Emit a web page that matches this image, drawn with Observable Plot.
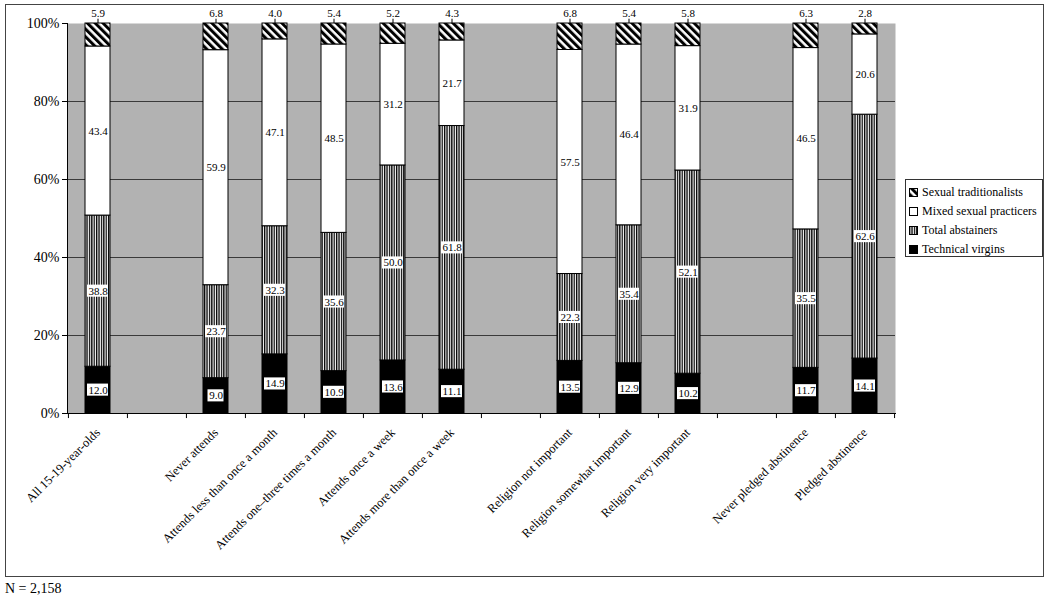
<!DOCTYPE html>
<html><head><meta charset="utf-8">
<script src="https://cdn.jsdelivr.net/npm/d3@7"></script>
<script src="https://cdn.jsdelivr.net/npm/@observablehq/plot@0.6"></script>
<style>
body{margin:0;background:#fff;font-family:"Liberation Serif","Times New Roman",serif;color:#000;}
#wrap{position:relative;width:1050px;height:603px;overflow:hidden;}
#wrap > svg.chart{position:absolute;left:0;top:0;}
#frame{position:absolute;left:5px;top:4px;width:1037px;height:571px;border:1px solid #444;pointer-events:none;}
#legend{position:absolute;left:905px;top:179px;width:136px;height:76px;border:1px solid #333;background:#fff;font-size:12px;}
.item{position:absolute;left:3px;height:16px;display:flex;align-items:center;white-space:nowrap;}
.item svg{margin-right:4px;display:block;}
#note{position:absolute;left:5px;top:581px;font-size:14px;}
</style></head><body>
<svg width="0" height="0" style="position:absolute">
  <defs>
    <pattern id="pTrad" patternUnits="userSpaceOnUse" width="5.5" height="5.5" patternTransform="rotate(-45)">
      <rect width="5.5" height="5.5" fill="white"/><rect width="3" height="5.5" fill="black"/>
    </pattern>
    <pattern id="pAbst" patternUnits="userSpaceOnUse" width="2.4" height="4">
      <rect width="2.4" height="4" fill="white"/><rect width="1.3" height="4" fill="black"/>
    </pattern>
  </defs>
</svg>
<div id="wrap"></div>
<script>
// ---- data ----
const slots = ["All 15-19-year-olds", " ", "Never attends", "Attends less than once a month",
  "Attends one–three times a month", "Attends once a week", "Attends more than once a week", "  ",
  "Religion not important", "Religion somewhat important", "Religion very important", "   ",
  "Never pledged abstinence", "Pledged abstinence"];
const categories = ["All 15-19-year-olds", "Never attends", "Attends less than once a month",
  "Attends one–three times a month", "Attends once a week", "Attends more than once a week",
  "Religion not important", "Religion somewhat important", "Religion very important",
  "Never pledged abstinence", "Pledged abstinence"];
const seriesNames = ["Technical virgins", "Total abstainers", "Mixed sexual practicers", "Sexual traditionalists"];
const technicalVirgins      = [12.0, 9.0, 14.9, 10.9, 13.6, 11.1, 13.5, 12.9, 10.2, 11.7, 14.1];
const totalAbstainers       = [38.8, 23.7, 32.3, 35.6, 50.0, 61.8, 22.3, 35.4, 52.1, 35.5, 62.6];
const mixedPracticers       = [43.4, 59.9, 47.1, 48.5, 31.2, 21.7, 57.5, 46.4, 31.9, 46.5, 20.6];
const sexualTraditionalists = [5.9, 6.8, 4.0, 5.4, 5.2, 4.3, 6.8, 5.4, 5.8, 6.3, 2.8];
const yTicks = [0, 20, 40, 60, 80, 100];
const note = "N = 2,158";

const seriesValues = [technicalVirgins, totalAbstainers, mixedPracticers, sexualTraditionalists];
const fills = {
  "Technical virgins": "black",
  "Total abstainers": "url(#pAbst)",
  "Mixed sexual practicers": "white",
  "Sexual traditionalists": "url(#pTrad)"
};

// 100% stacked rows (normalized like the original)
const rows = [];
categories.forEach((c, i) => {
  const total = d3.sum(seriesValues, v => v[i]);
  let acc = 0;
  seriesNames.forEach((s, k) => {
    const v = seriesValues[k][i];
    const y1 = acc / total * 100, y2 = (acc + v) / total * 100;
    acc += v;
    rows.push({category: c, series: s, value: v, label: v.toFixed(1), y1, y2, mid: (y1 + y2) / 2});
  });
});
const boxed = rows.filter(d => d.series === "Technical virgins" || d.series === "Total abstainers");
const mixed = rows.filter(d => d.series === "Mixed sexual practicers");
const trad = rows.filter(d => d.series === "Sexual traditionalists");

const W = 1050, H = 576, mL = 67, mR = 155, mT = 23, mB = 163;
const step = (W - mL - mR) / slots.length;

const chart = Plot.plot({
  width: W, height: H,
  marginLeft: mL, marginRight: mR, marginTop: mT, marginBottom: mB,
  className: "chart",
  style: {fontFamily: "'Liberation Serif', 'Times New Roman', serif", fontSize: "14px", color: "black", background: "transparent", overflow: "visible"},
  x: {domain: slots, paddingInner: 0.577, paddingOuter: 0.2885, axis: null, label: null},
  y: {domain: [0, 100], axis: null, label: null},
  marks: [
    Plot.frame({fill: "#b2b2b2", stroke: null}),
    Plot.gridY([20, 40, 60, 80], {stroke: "#3a3a3a", strokeOpacity: 1}),
    ...seriesNames.map(s => Plot.barY(rows.filter(d => d.series === s), {
      x: "category", y1: "y1", y2: "y2", fill: fills[s], stroke: "black", strokeWidth: 1
    })),
    Plot.barY(boxed.filter(d => d.label.length >= 4), {x: "category", y1: d => d.mid - 1.55, y2: d => d.mid + 1.55, fill: "white", insetLeft: 2, insetRight: 2}),
    Plot.barY(boxed.filter(d => d.label.length < 4), {x: "category", y1: d => d.mid - 1.55, y2: d => d.mid + 1.55, fill: "white", insetLeft: 4.5, insetRight: 4.5}),
    Plot.text(boxed, {x: "category", y: "mid", text: "label", fontSize: 11, fill: "black"}),
    Plot.text(mixed, {x: "category", y: "mid", text: "label", fontSize: 11, fill: "black"}),
    Plot.ruleX(trad, {x: "category", y1: 100, y2: 101.1, stroke: "black", strokeWidth: 1}),
    Plot.text(trad, {x: "category", y: 100, dy: -10, text: "label", fontSize: 11, fill: "black", letterSpacing: "0.5px"}),
    Plot.axisY({ticks: yTicks, tickFormat: d => d + "%", tickSize: 5, tickPadding: 3, fontSize: 14, stroke: "black", fill: "black", label: null}),
    Plot.frame({anchor: "left", stroke: "black"}),
    Plot.frame({anchor: "bottom", stroke: "black"}),
    Plot.ruleX(slots, {x: d => d, dx: -step / 2, y1: 0, y2: -1.3, stroke: "black"}),
    Plot.ruleX(slots.slice(-1), {x: d => d, dx: step / 2, y1: 0, y2: -1.3, stroke: "black"}),
    Plot.axisX({tickSize: 0, tickPadding: 17, tickRotate: -45, fontSize: 12.5, fill: "black", label: null})
  ]
});

const wrap = document.getElementById("wrap");
wrap.appendChild(chart);

const frame = document.createElement("div");
frame.id = "frame";
wrap.appendChild(frame);

// legend (top to bottom: reverse stack order)
const legend = document.createElement("div");
legend.id = "legend";
[...seriesNames].reverse().forEach((s, i) => {
  const item = document.createElement("div");
  item.className = "item";
  item.style.top = (4 + i * 19) + "px";
  item.innerHTML = `<svg width="9" height="9"><rect x="0.5" y="0.5" width="8" height="8" fill="${fills[s]}" stroke="black"/></svg><span>${s}</span>`;
  legend.appendChild(item);
});
wrap.appendChild(legend);

const n = document.createElement("div");
n.id = "note";
n.textContent = note;
wrap.appendChild(n);
</script>
</body></html>
